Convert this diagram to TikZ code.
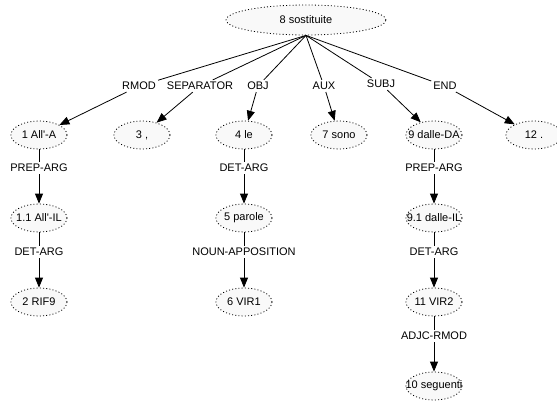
\documentclass[tikz,border=0pt]{standalone}
\usepackage{fontspec}
\setmainfont{Liberation Sans}
\usetikzlibrary{shapes.geometric,arrows.meta}
\tikzset{
  tok/.style={ellipse,draw,dash pattern=on 1pt off 2.2pt,line width=0.8pt,fill=gray!5,
    minimum width=56pt,minimum height=28pt,inner sep=0pt,font=\fontsize{11}{13}\selectfont},
  rel/.style={inner sep=2pt,font=\fontsize{11}{13}\selectfont},
  dep/.style={line width=0.8pt},
  deparrow/.style={dep,-{Triangle[length=10pt,width=8pt]}}
}
\newcommand{\tk}[1]{\makebox[0pt]{#1}}
\begin{document}
\begin{tikzpicture}[x=1pt,y=-1pt]
  \useasboundingbox (0,0) rectangle (557,401);

  % root
  \node[tok,minimum width=160pt,minimum height=30pt] (root) at (306,20) {\tk{8 sostituite}};

  % first level relations
  \node[rel] (rmod) at (139,86) {RMOD};
  \node[rel] (sep)  at (200,86) {SEPARATOR};
  \node[rel] (obj)  at (258,86) {OBJ};
  \node[rel] (aux)  at (324,86) {AUX};
  \node[rel] (subj) at (381,84) {SUBJ};
  \node[rel] (end)  at (445,86) {END};

  % first level tokens
  \node[tok] (all-a)  at (39,135)  {\tk{1 All\textquotesingle-A}};
  \node[tok] (comma)  at (142,135) {\tk{3 ,}};
  \node[tok] (le)     at (244,135) {\tk{4 le}};
  \node[tok] (sono)   at (339,135) {\tk{7 sono}};
  \node[tok] (dalle-da) at (434,135) {\tk{9 dalle-DA}};
  \node[tok] (dot)    at (534,135) {\tk{12 .}};

  \foreach \r/\t in {rmod/all-a,sep/comma,obj/le,aux/sono,subj/dalle-da,end/dot}{
    \draw[dep] (root.south) -- (\r);
    \draw[deparrow] (\r) -- (\t);
  }

  % left branch
  \node[rel] (prep1) at (39,168) {PREP-ARG};
  \node[tok] (all-il) at (39,218) {\tk{1.1 All\textquotesingle-IL}};
  \node[rel] (det1) at (39,252) {DET-ARG};
  \node[tok] (rif9) at (39,302) {\tk{2 RIF9}};
  \draw[dep] (all-a) -- (prep1);
  \draw[deparrow] (prep1) -- (all-il);
  \draw[dep] (all-il) -- (det1);
  \draw[deparrow] (det1) -- (rif9);

  % middle branch
  \node[rel] (det2) at (244,168) {DET-ARG};
  \node[tok] (parole) at (244,218) {\tk{5 parole}};
  \node[rel] (appos) at (244,252) {NOUN-APPOSITION};
  \node[tok] (vir1) at (244,302) {\tk{6 VIR1}};
  \draw[dep] (le) -- (det2);
  \draw[deparrow] (det2) -- (parole);
  \draw[dep] (parole) -- (appos);
  \draw[deparrow] (appos) -- (vir1);

  % right branch
  \node[rel] (prep2) at (434,168) {PREP-ARG};
  \node[tok] (dalle-il) at (434,218) {\tk{9.1 dalle-IL}};
  \node[rel] (det3) at (434,252) {DET-ARG};
  \node[tok] (vir2) at (434,302) {\tk{11 VIR2}};
  \node[rel] (adjc) at (434,336) {ADJC-RMOD};
  \node[tok] (seguenti) at (434,386) {\tk{10 seguenti}};
  \draw[dep] (dalle-da) -- (prep2);
  \draw[deparrow] (prep2) -- (dalle-il);
  \draw[dep] (dalle-il) -- (det3);
  \draw[deparrow] (det3) -- (vir2);
  \draw[dep] (vir2) -- (adjc);
  \draw[deparrow] (adjc) -- (seguenti);
\end{tikzpicture}
\end{document}
